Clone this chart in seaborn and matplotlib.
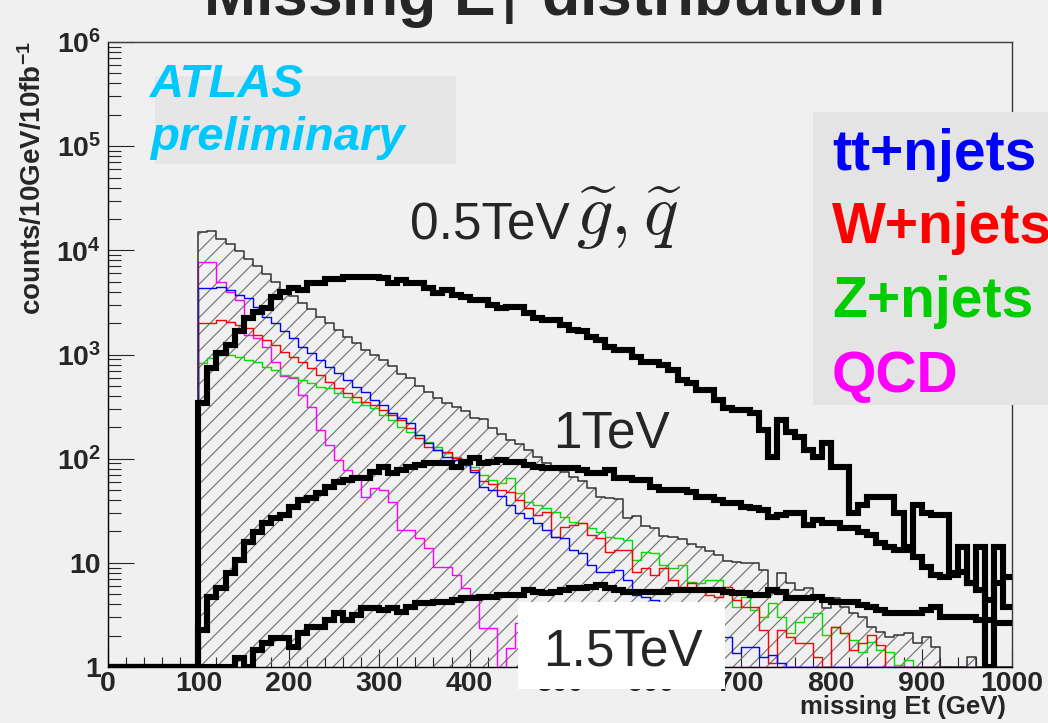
import numpy as np
import matplotlib
matplotlib.use("Agg")
import matplotlib.pyplot as plt
from matplotlib import font_manager
from matplotlib.patches import Rectangle
from matplotlib.ticker import MultipleLocator, LogLocator, FuncFormatter, NullFormatter
import seaborn as sns

# ---------------------------------------------------------------- data
# missing Et histograms, 10 GeV bins from 0 to 1000 GeV (counts / 10 GeV / 10 fb^-1)
bin_edges = list(range(0, 1001, 10))

total_bkg = [0] * 10 + [
    15000, 15300, 12800, 11500, 9800, 8200, 7050, 5900, 4950, 4150,
    3630, 3110, 2730, 2290, 2000, 1710, 1470, 1290, 1100, 986,
    884, 774, 649, 594, 498, 436, 382, 342, 313, 286,
    245, 240, 197, 172, 151, 138, 121, 104, 90.7, 81.3,
    74.3, 66.6, 61.0, 52.2, 42.8, 41.9, 41.0, 26.9, 28.1, 22.5,
    21.6, 18.1, 17.7, 16.9, 15.1, 14.2, 13.0, 11.9, 10.4, 10.2,
    9.96, 9.96, 8.53, 5.13, 7.98, 6.40, 5.48, 5.73, 4.59, 3.68,
    4.59, 3.77, 3.30, 3.02, 2.42, 2.17, 1.94, 2.03, 2.12, 1.70,
    1.94, 1.56, 0, 0, 0, 1.25, 0, 0, 0, 0]

ttbar = [0] * 10 + [
    4340, 4340, 4440, 4150, 3720, 3480, 2850, 2290, 2000, 1670,
    1430, 1180, 1030, 884, 757, 663, 568, 487, 436, 363,
    327, 274, 245, 220, 169, 141, 121, 104, 97, 86.8,
    74.3, 53.4, 50, 43.8, 35.9, 30.1, 26.9, 24.1, 20.6, 17.7,
    17.3, 13.3, 12.4, 9.53, 8.16, 8.16, 8.53, 6.84, 4.91, 4.70,
    4.39, 3.94, 3.52, 3.16, 2.83, 2.53, 2.27, 2.03, 1.94, 1.36,
    1.56, 1.56, 1.25, 1.30, 1.09, 0, 0, 0, 0, 0,
    0, 0, 0, 0, 0, 0, 0, 0, 0, 0,
    0, 0, 0, 0, 0, 0, 0, 0, 0, 0]

wjets = [0] * 10 + [
    2000, 2000, 2140, 2050, 1910, 1790, 1540, 1370, 1230, 1050,
    944, 845, 741, 634, 543, 476, 426, 390, 349, 327,
    293, 262, 235, 197, 158, 129, 121, 116, 101, 90.7,
    77.8, 61.0, 57.0, 50, 47.8, 40.1, 33.6, 28.7, 30.7, 17.7,
    22.1, 23.0, 24.1, 18.5, 17.3, 12.7, 13.3, 13.3, 8.16, 8.91,
    7.64, 8.91, 6.84, 5.86, 6.40, 5.48, 4.91, 4.70, 5.86, 4.39,
    3.77, 3.77, 2.27, 1.09, 2.27, 1.94, 1.70, 1.70, 1.25, 0,
    2.42, 2.12, 1.46, 1.70, 2.03, 1.63, 0, 0, 0, 0,
    0, 0, 0, 0, 0, 0, 0, 0, 0, 0]

zjets = [0] * 10 + [
    827, 923, 986, 986, 944, 884, 845, 757, 708, 634,
    607, 568, 532, 487, 476, 426, 390, 349, 327, 306,
    262, 235, 201, 180, 169, 144, 129, 113, 104, 90.7,
    83, 69.6, 62.3, 58.3, 65.1, 46.8, 38.3, 35.9, 33.6, 30.7,
    27.5, 24.6, 24.1, 21.6, 19.8, 17.7, 17.3, 16.5, 10.6, 12.7,
    12.4, 9.53, 8.91, 9.53, 6.54, 6.40, 6.84, 6.84, 5.48, 3.77,
    4.70, 3.52, 3.02, 4.11, 3.02, 2.12, 2.70, 3.02, 3.30, 2.03,
    2.42, 2.12, 1.82, 1.39, 1.74, 1.46, 1.39, 1.04, 1.17, 0,
    0, 0, 0, 0, 0, 0, 0, 0, 0, 0]

qcd = [0] * 10 + [
    7710, 7710, 4950, 3970, 3330, 1540, 1430, 1180, 845, 621,
    594, 408, 313, 188, 135, 97, 77.8, 68.1, 42.8, 52.2,
    50, 38.3, 20.6, 20.6, 17.3, 13.9, 9.12, 9.12, 7.64, 5.73,
    4.91, 2.37, 2.37, 0, 1.52, 2.64, 0, 0, 0, 0] + [0] * 50

susy_05 = [0] * 10 + [
    342, 741, 1030, 1230, 1670, 2240, 2550, 2790, 3550, 3970,
    4340, 4150, 4840, 4840, 5290, 5290, 5530, 5530, 5530, 5530,
    5410, 4840, 5170, 4840, 4840, 4340, 3880, 4150, 3720, 3550,
    3330, 3330, 2980, 2790, 2850, 2850, 2490, 2240, 2140, 2140,
    1910, 1710, 1670, 1470, 1370, 1180, 1100, 1100, 944, 845,
    845, 791, 708, 568, 532, 455, 455, 363, 306, 293,
    293, 274, 188, 104, 235, 180, 161, 121, 104, 141,
    83, 83, 30.1, 35.9, 42.8, 42.8, 42.8, 30.1, 14.2, 35.9,
    30.1, 29, 29, 8.0, 14.2, 6.4, 14.2, 0, 14.2, 7.3]

susy_10 = [0] * 10 + [
    2.27, 4.70, 5.73, 7.98, 10.6, 15.8, 19.8, 24.1, 26.9, 28.7,
    34.3, 40.1, 41.9, 46.8, 53.4, 59.6, 62.3, 65.1, 65.1, 74.3,
    83, 72.8, 77.8, 83, 86.8, 90.7, 90.7, 90.7, 83, 92.7,
    101, 90.7, 92.7, 97, 92.7, 92.7, 86.8, 83, 81.3, 81.3,
    81.3, 81.3, 77.8, 72.8, 72.8, 77.8, 65.1, 65.1, 62.3, 62.3,
    53.4, 50, 50, 50, 47.8, 42.8, 42.8, 40.1, 37.5, 37.5,
    34.3, 33.6, 32.1, 27.5, 28.7, 30.1, 30.1, 23.0, 25.8, 24.1,
    24.1, 21.6, 21.6, 19.8, 18.5, 15.5, 14.2, 13.3, 13.3, 11.4,
    9.12, 7.64, 7.31, 7.64, 8.16, 6.40, 5.48, 4.39, 6.40, 3.77]

susy_15 = [0] * 10 + [
    0, 0, 0, 0, 1.22, 0, 1.46, 1.70, 1.90, 1.90,
    1.56, 2.12, 2.42, 2.42, 2.83, 3.30, 2.83, 3.16, 3.68, 3.68,
    3.52, 3.68, 3.37, 3.77, 4.11, 4.11, 4.21, 4.21, 4.39, 4.59,
    4.59, 4.70, 4.70, 4.91, 4.91, 4.91, 5.48, 5.24, 5.13, 5.24,
    5.48, 5.73, 5.73, 5.86, 6.12, 5.73, 5.48, 5.24, 5.24, 5.24,
    5.24, 5.24, 5.48, 5.48, 5.48, 5.48, 5.48, 5.48, 5.24, 5.13,
    5.13, 4.91, 4.91, 5.48, 5.24, 4.59, 4.59, 4.59, 4.70, 4.39,
    4.21, 4.21, 4.21, 3.94, 3.77, 3.52, 3.30, 3.30, 3.30, 3.30,
    3.52, 3.77, 3.02, 3.02, 3.02, 3.02, 2.83, 2.83, 2.64, 2.64]

y_ticks = [1, 10, 100, 1e3, 1e4, 1e5, 1e6]
x_ticks = list(range(0, 1001, 100))

bkg_names = ["tt+njets", "W+njets", "Z+njets", "QCD"]
bkg_colors = ["#0000ff", "#ff0000", "#00dd00", "#ff00ff"]
text_colors = ["#0000ff", "#ff0000", "#00cc00", "#ff00ff"]

# ---------------------------------------------------------------- style
sns.set_theme(style="white")
installed = {f.name for f in font_manager.fontManager.ttflist}
sans = "Liberation Sans" if "Liberation Sans" in installed else "DejaVu Sans"
plt.rcParams["font.family"] = [sans, "DejaVu Sans"]
plt.rcParams["font.weight"] = "bold"
plt.rcParams["mathtext.fontset"] = "custom"
plt.rcParams["mathtext.rm"] = f"{sans}:bold"
plt.rcParams["mathtext.bf"] = f"{sans}:bold"
plt.rcParams["mathtext.it"] = f"{sans}:italic:bold"
plt.rcParams["hatch.linewidth"] = 0.8

BG = "#f0f0f0"
W, H = 1048, 723


def fx(px):
    return px / W


def fy(py):
    return 1 - py / H


fig = plt.figure(figsize=(W / 100, H / 100), dpi=100, facecolor=BG)
ax = fig.add_axes([fx(108), fy(667), fx(1012 - 108), (667 - 42) / H])
ax.set_facecolor(BG)
ax.set_yscale("log")

centers = [e + 5 for e in bin_edges[:-1]]


def draw_hist(values, **kws):
    # empty bins sit on the frame floor, as in the usual ROOT rendering
    w = np.maximum(np.asarray(values, dtype=float), 1.0)
    sns.histplot(x=centers, weights=w, bins=bin_edges, element="step", ax=ax, **kws)


# hatched total background
draw_hist(total_bkg, fill=True, color="#6e6e6e", facecolor="none",
          edgecolor="#6e6e6e", linewidth=0, hatch="//", zorder=1)

for vals, col in zip([qcd, zjets, wjets, ttbar], bkg_colors[::-1]):
    draw_hist(vals, fill=False, color=col, linewidth=1.0, zorder=3)

draw_hist(total_bkg, fill=False, color="#333333", linewidth=1.1, zorder=3)

for vals in [susy_15, susy_10, susy_05]:
    draw_hist(vals, fill=False, color="black", linewidth=4.4, zorder=4,
              solid_joinstyle="miter")

ax.set_xlim(0, 1000)
ax.set_ylim(1, 1e6)
ax.set_xlabel("")
ax.set_ylabel("")

# axes, ticks
for side in ["left", "bottom", "top", "right"]:
    ax.spines[side].set_color("black" if side in ("left", "bottom") else "#3a3a3a")
    ax.spines[side].set_linewidth(1.0)
    ax.spines[side].set_zorder(2.5)

ax.xaxis.set_minor_locator(MultipleLocator(20))
ax.set_xticks(x_ticks)
ax.set_xticklabels([str(t) for t in x_ticks])
ax.set_yticks(y_ticks)
ax.yaxis.set_minor_locator(LogLocator(base=10, subs=np.arange(2, 10), numticks=100))


def ylab(v, pos):
    e = int(round(np.log10(v)))
    if e == 0:
        return "1"
    if e == 1:
        return "10"
    return rf"$10^{{{e}}}$"


ax.yaxis.set_major_formatter(FuncFormatter(ylab))
ax.yaxis.set_minor_formatter(NullFormatter())

ax.tick_params(axis="x", which="major", direction="in", length=13, width=0.8,
               pad=3, labelsize=20.5, bottom=True, top=False)
ax.tick_params(axis="x", which="minor", direction="in", length=7, width=0.8,
               bottom=True, top=False)
ax.tick_params(axis="y", which="major", direction="in", length=18.5, width=0.8,
               pad=5, labelsize=20.5, left=True, right=False)
ax.tick_params(axis="y", which="minor", direction="in", length=9.5, width=0.8,
               left=True, right=False)

# axis titles
fig.text(fx(1006), fy(695), "missing Et (GeV)", ha="right", va="top",
         fontsize=18.5)
fig.text(fx(33), fy(178), r"counts/10GeV/10fb$^{-1}$", rotation=90,
         ha="center", va="center", fontsize=20)

# title running off the top edge
fig.text(fx(543), fy(15), r"Missing E$_{\mathrm{T}}$ distribution", ha="center",
         va="baseline", fontsize=45)

# ATLAS tag
fig.add_artist(Rectangle((fx(155), fy(164)), fx(456 - 155), (164 - 76) / H,
                         transform=fig.transFigure, facecolor="#e6e6e6",
                         edgecolor="none", zorder=5))
fig.text(fx(150), fy(97), "ATLAS", color="#00c8ff", fontsize=34,
         fontstyle="italic", va="baseline", zorder=6)
fig.text(fx(150), fy(150), "preliminary", color="#00c8ff", fontsize=34,
         fontstyle="italic", va="baseline", zorder=6)

# sample legend
fig.add_artist(Rectangle((fx(813), fy(405)), fx(260), (405 - 112) / H,
                         transform=fig.transFigure, facecolor="#e4e4e4",
                         edgecolor="none", zorder=5))
for name, col, base in zip(bkg_names, text_colors, [170, 243, 317, 392]):
    fig.text(fx(832), fy(base), name, color=col, fontsize=41,
             va="baseline", zorder=6)

# signal mass labels
fig.text(fx(410), fy(240), "0.5TeV", fontsize=37, fontweight="normal",
         va="baseline", zorder=6)
fig.text(fx(576), fy(234), r"$\widetilde{g},\widetilde{q}$", fontsize=52,
         fontweight="normal", math_fontfamily="cm", va="baseline", zorder=6)
fig.text(fx(553), fy(447), "1TeV", fontsize=37, fontweight="normal",
         va="baseline", zorder=6)
fig.add_artist(Rectangle((fx(518), fy(689)), fx(725 - 518), (689 - 602) / H,
                         transform=fig.transFigure, facecolor="white",
                         edgecolor="none", zorder=5))
fig.text(fx(543), fy(665), "1.5TeV", fontsize=37, fontweight="normal",
         va="baseline", zorder=6)

fig.savefig("out.png", dpi=100, facecolor=BG)
